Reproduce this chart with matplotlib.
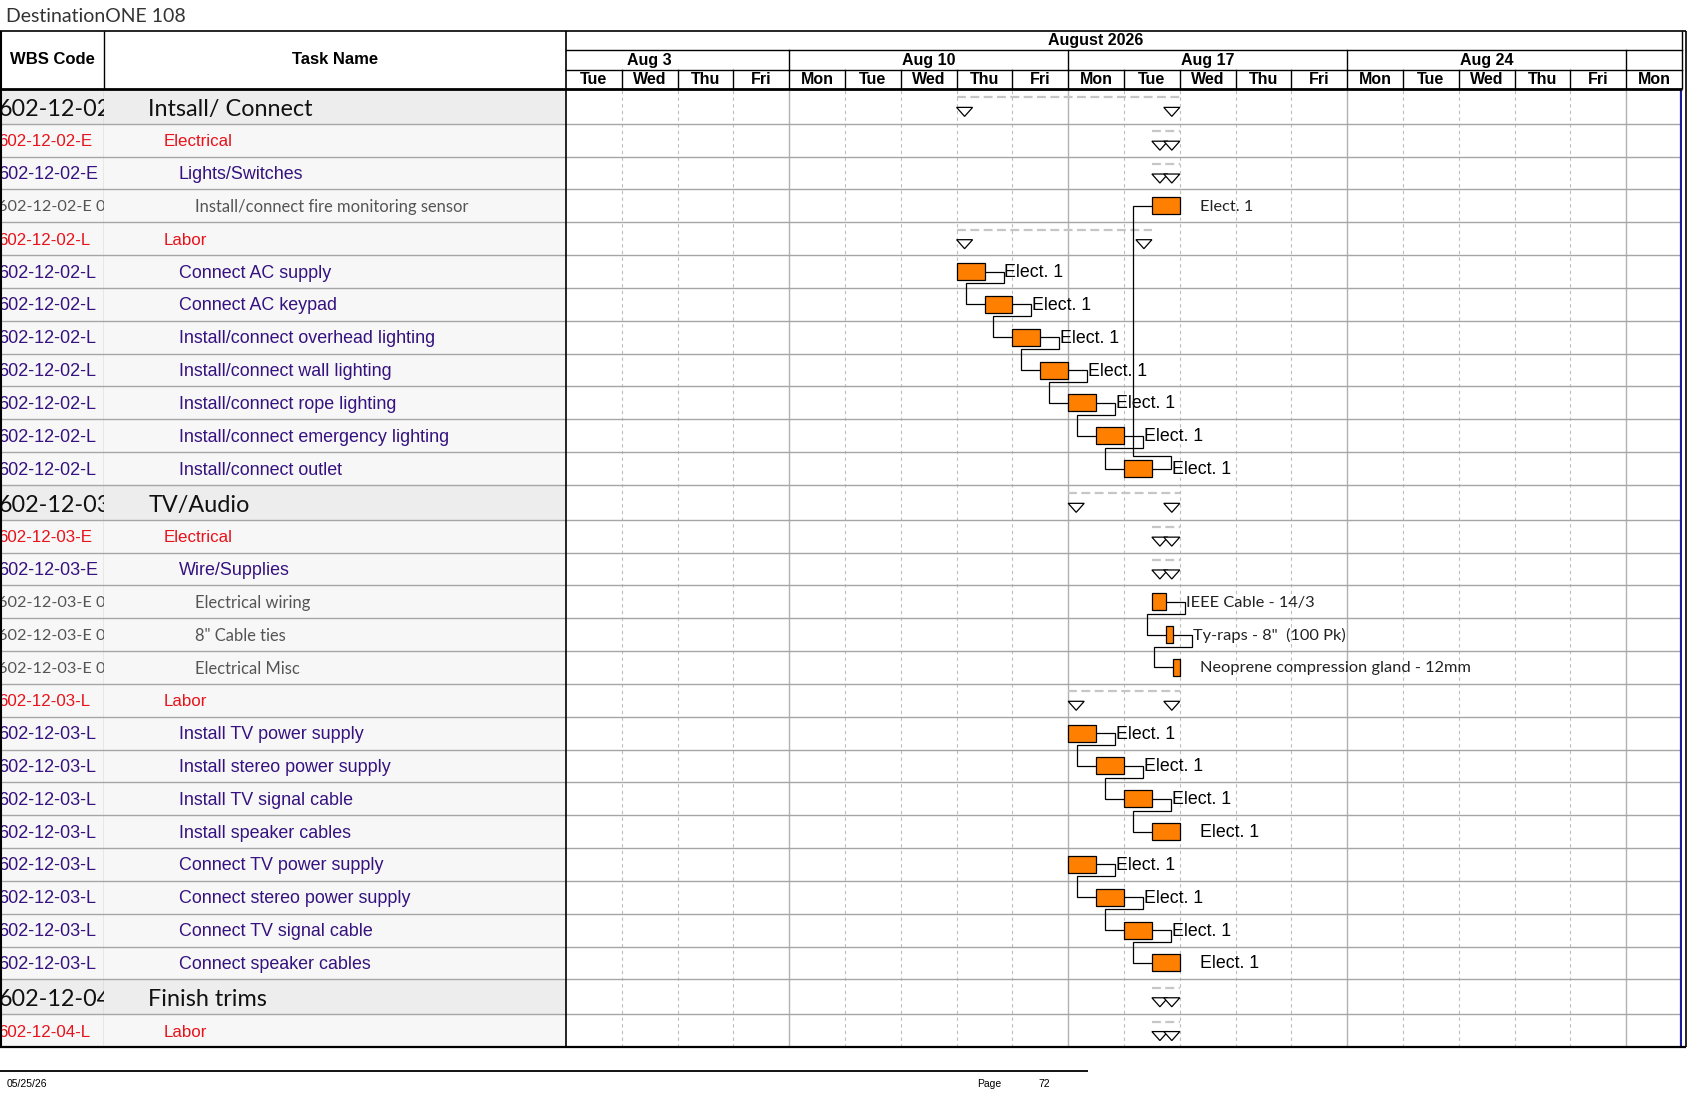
import numpy as np
import matplotlib
matplotlib.use("Agg")
import matplotlib.pyplot as plt
from matplotlib.patches import Polygon, Rectangle

# ---------------- data ----------------
title_text = "DestinationONE 108"
footer_date = "05/25/26"
footer_page = "72"
view_start = "2026-08-04"
month_label = "August 2026"
month_span = ("2026-08-01", "2026-09-01")
week_labels = ["Aug 3", "Aug 10", "Aug 17", "Aug 24"]
week_starts = ["2026-08-03", "2026-08-10", "2026-08-17", "2026-08-24", "2026-08-31"]
day_labels = ["Tue", "Wed", "Thu", "Fri", "Mon", "Tue", "Wed", "Thu", "Fri", "Mon",
              "Tue", "Wed", "Thu", "Fri", "Mon", "Tue", "Wed", "Thu", "Fri", "Mon"]

wbs_codes = ["602-12-02", "602-12-02-E", "602-12-02-E", "602-12-02-E 0", "602-12-02-L",
             "602-12-02-L", "602-12-02-L", "602-12-02-L", "602-12-02-L", "602-12-02-L",
             "602-12-02-L", "602-12-02-L",
             "602-12-03", "602-12-03-E", "602-12-03-E", "602-12-03-E 0", "602-12-03-E 0",
             "602-12-03-E 0", "602-12-03-L", "602-12-03-L", "602-12-03-L", "602-12-03-L",
             "602-12-03-L", "602-12-03-L", "602-12-03-L", "602-12-03-L", "602-12-03-L",
             "602-12-04", "602-12-04-L"]
task_names = ["Intsall/ Connect", "Electrical", "Lights/Switches",
              "Install/connect fire monitoring sensor", "Labor",
              "Connect AC supply", "Connect AC keypad", "Install/connect overhead lighting",
              "Install/connect wall lighting", "Install/connect rope lighting",
              "Install/connect emergency lighting", "Install/connect outlet",
              "TV/Audio", "Electrical", "Wire/Supplies", "Electrical wiring",
              "8\" Cable ties", "Electrical Misc", "Labor",
              "Install TV power supply", "Install stereo power supply",
              "Install TV signal cable", "Install speaker cables",
              "Connect TV power supply", "Connect stereo power supply",
              "Connect TV signal cable", "Connect speaker cables",
              "Finish trims", "Labor"]
outline_level = [0, 1, 2, 3, 1, 2, 2, 2, 2, 2, 2, 2,
                 0, 1, 2, 3, 3, 3, 1, 2, 2, 2, 2, 2, 2, 2, 2,
                 0, 1]
is_summary = [1, 1, 1, 0, 1, 0, 0, 0, 0, 0, 0, 0,
              1, 1, 1, 0, 0, 0, 1, 0, 0, 0, 0, 0, 0, 0, 0,
              1, 1]
start_time = ["2026-08-13 08:00", "2026-08-18 13:00", "2026-08-18 13:00", "2026-08-18 13:00",
              "2026-08-13 08:00", "2026-08-13 08:00", "2026-08-13 13:00", "2026-08-14 08:00",
              "2026-08-14 13:00", "2026-08-17 08:00", "2026-08-17 13:00", "2026-08-18 08:00",
              "2026-08-17 08:00", "2026-08-18 13:00", "2026-08-18 13:00", "2026-08-18 13:00",
              "2026-08-18 15:00", "2026-08-18 16:00", "2026-08-17 08:00",
              "2026-08-17 08:00", "2026-08-17 13:00", "2026-08-18 08:00", "2026-08-18 13:00",
              "2026-08-17 08:00", "2026-08-17 13:00", "2026-08-18 08:00", "2026-08-18 13:00",
              "2026-08-18 13:00", "2026-08-18 13:00"]
finish_time = ["2026-08-18 17:00", "2026-08-18 17:00", "2026-08-18 17:00", "2026-08-18 17:00",
               "2026-08-18 12:00", "2026-08-13 12:00", "2026-08-13 17:00", "2026-08-14 12:00",
               "2026-08-14 17:00", "2026-08-17 12:00", "2026-08-17 17:00", "2026-08-18 12:00",
               "2026-08-18 17:00", "2026-08-18 17:00", "2026-08-18 17:00", "2026-08-18 15:00",
               "2026-08-18 16:00", "2026-08-18 17:00", "2026-08-18 17:00",
               "2026-08-17 12:00", "2026-08-17 17:00", "2026-08-18 12:00", "2026-08-18 17:00",
               "2026-08-17 12:00", "2026-08-17 17:00", "2026-08-18 12:00", "2026-08-18 17:00",
               "2026-08-18 17:00", "2026-08-18 17:00"]
resource_labels = ["", "", "", "Elect. 1", "",
                   "Elect. 1", "Elect. 1", "Elect. 1", "Elect. 1", "Elect. 1", "Elect. 1", "Elect. 1",
                   "", "", "", "IEEE Cable - 14/3", "Ty-raps - 8\"  (100 Pk)",
                   "Neoprene compression gland - 12mm", "",
                   "Elect. 1", "Elect. 1", "Elect. 1", "Elect. 1",
                   "Elect. 1", "Elect. 1", "Elect. 1", "Elect. 1", "", ""]
links = [(5, 6), (6, 7), (7, 8), (8, 9), (9, 10), (10, 11), (11, 3),
         (15, 16), (16, 17),
         (19, 20), (20, 21), (21, 22),
         (23, 24), (24, 25), (25, 26)]

# ---------------- helpers ----------------
def dpos(d):
    d = np.busday_offset(d, 0, roll="forward")
    return float(np.busday_count(view_start, d))

def tpos(ts):
    d, hm = ts.split()
    h = int(hm[:2]) + int(hm[3:]) / 60.0
    frac = (h - 8) / 8.0 if h <= 12 else (h - 9) / 8.0
    return dpos(d) + frac

W, H = 1687, 1097
fig = plt.figure(figsize=(W / 100, H / 100), dpi=100)
fig.patch.set_facecolor("white")

def add_ax(x0, y0, x1, y1, z=1):
    ax = fig.add_axes([x0 / W, 1 - y1 / H, (x1 - x0) / W, (y1 - y0) / H], zorder=z)
    ax.set_axis_off()
    return ax

ARIAL = "Liberation Sans"
CALI = "Lato"

BODY_TOP, BODY_BOT = 89, 1047
X_WBS, X_TASK, X_G0, X_G1 = 0, 104, 566, 1682
n_days = len(day_labels)
px_per_day = (X_G1 - X_G0) / n_days

row_h = [34.8 if outline_level[i] == 0 else 32.85 for i in range(len(wbs_codes))]
bounds = np.concatenate([[0], np.cumsum(row_h)])
body_h = bounds[-1]
mids = (bounds[:-1] + bounds[1:]) / 2

ax_wbs = add_ax(X_WBS, BODY_TOP, X_TASK, BODY_BOT)
ax_task = add_ax(X_TASK, BODY_TOP, X_G0, BODY_BOT)
ax_g = add_ax(X_G0, BODY_TOP, X_G1, BODY_BOT)
ax_gh = add_ax(X_G0, 31, X_G1, BODY_TOP)
ax_all = add_ax(0, 0, W, H, z=5)

ax_wbs.set_xlim(X_WBS, X_TASK); ax_wbs.set_ylim(body_h, 0)
ax_task.set_xlim(X_TASK, X_G0); ax_task.set_ylim(body_h, 0)
ax_g.set_xlim(0, n_days); ax_g.set_ylim(body_h, 0)
ax_gh.set_xlim(0, n_days); ax_gh.set_ylim(BODY_TOP - 31, 0)
ax_all.set_xlim(0, W); ax_all.set_ylim(H, 0)

# ---------------- table ----------------
lvl_color = {0: "#111111", 1: "#e8121b", 2: "#35127f", 3: "#555555"}
lvl_font = {0: CALI, 1: ARIAL, 2: ARIAL, 3: CALI}
wbs_size = {0: 16.8, 1: 12.2, 2: 13.0, 3: 11.7}
name_size = {0: 16.8, 1: 12.2, 2: 12.9, 3: 11.9}
indent = {0: 148.5, 1: 163.5, 2: 178.6, 3: 194.7}
text_dy = {0: 3.0, 1: 1.5, 2: 1.5, 3: 1.5}

for i in range(len(wbs_codes)):
    lvl = outline_level[i]
    bg = "#ededed" if lvl == 0 else "#f7f7f7"
    for ax, (a, b) in ((ax_wbs, (X_WBS, X_TASK)), (ax_task, (X_TASK, X_G0))):
        ax.add_patch(Rectangle((a, bounds[i]), b - a, row_h[i], facecolor=bg,
                               edgecolor="none", zorder=0))
    ax_wbs.text(-1.5, mids[i] + text_dy[lvl], wbs_codes[i], fontsize=wbs_size[lvl],
                family=lvl_font[lvl], color=lvl_color[lvl], va="center", ha="left",
                clip_on=True)
    ax_task.text(indent[lvl], mids[i] + text_dy[lvl], task_names[i], fontsize=name_size[lvl],
                 family=lvl_font[lvl], color=lvl_color[lvl], va="center", ha="left",
                 clip_on=True)

for ax in (ax_wbs, ax_task):
    for yb in bounds[1:-1]:
        ax.axhline(yb, color="#a6a6a6", lw=1.0, zorder=1)
ax_wbs.axvline(X_TASK - 0.5, color="#a6a6a6", lw=1.0, zorder=1)

# ---------------- gantt body ----------------
week_idx = [dpos(d) for d in week_starts]
for k in range(1, n_days):
    if k in week_idx:
        ax_g.axvline(k, color="#b2b2b2", lw=1.0, zorder=0)
    else:
        ax_g.axvline(k, color="#bdbdbd", lw=0.8, ls=(0, (3, 3)), zorder=0)
for yb in bounds[1:-1]:
    ax_g.axhline(yb, color="#a6a6a6", lw=1.0, zorder=0)

starts = [tpos(s) for s in start_time]
ends = [tpos(s) for s in finish_time]

dx = 19.0 / px_per_day
tri_w = 16.0 / px_per_day
tri_h = 9.0

for i in range(len(wbs_codes)):
    if is_summary[i]:
        y_dash = mids[i] - 9.0
        ax_g.plot([starts[i], ends[i]], [y_dash, y_dash], color="#c6c6c6", lw=1.6,
                  ls=(0, (4, 2)), zorder=2, solid_capstyle="butt")
        yt = mids[i] + 1.0
        for x0 in (starts[i], ends[i] - tri_w):
            ax_g.add_patch(Polygon([(x0, yt), (x0 + tri_w, yt),
                                    (x0 + tri_w / 2, yt + tri_h)], closed=True,
                                   facecolor="white", edgecolor="black", lw=0.9, zorder=4))
    else:
        ax_g.barh(mids[i], ends[i] - starts[i], left=starts[i], height=17,
                  color="#ff8000", edgecolor="black", lw=0.9, zorder=4)
        if resource_labels[i]:
            lvl = outline_level[i]
            fam = ARIAL if lvl == 2 else CALI
            fs = 12.8 if lvl == 2 else 11.8
            col = "black" if lvl == 2 else "#222222"
            ax_g.text(ends[i] + dx + 1.0 / px_per_day, mids[i] + 1.0, resource_labels[i],
                      fontsize=fs, family=fam, color=col, va="center", ha="left", zorder=5)

for p, s in links:
    xe, xs = ends[p], starts[s]
    if s > p:
        yc = bounds[p + 1] - 4.5
    else:
        yc = bounds[p] + 4.0
    xs_ = [xe, xe + dx, xe + dx, xs - dx, xs - dx, xs]
    ys_ = [mids[p], mids[p], yc, yc, mids[s], mids[s]]
    ax_g.plot(xs_, ys_, color="black", lw=0.9, zorder=3, solid_joinstyle="miter")

ax_g.axvline(n_days - 0.02, color="#1c1c9a", lw=1.6, zorder=6)

# ---------------- gantt header ----------------
hh = BODY_TOP - 31
y_m, y_w = 19.0, 38.5
ax_gh.plot([0, n_days], [y_m, y_m], color="black", lw=1.0, clip_on=False)
ax_gh.plot([0, n_days], [y_w, y_w], color="black", lw=1.0, clip_on=False)
ms, me = dpos(month_span[0]), dpos(month_span[1])
ax_gh.text((ms + me) / 2, y_m / 2 + 0.5, month_label, ha="center", va="center",
           fontsize=11.5, family=ARIAL, weight="bold")
for k, lab in enumerate(week_labels):
    a, b = dpos(week_starts[k]), dpos(week_starts[k + 1])
    ax_gh.text((a + b) / 2, (y_m + y_w) / 2 + 0.5, lab, ha="center", va="center",
               fontsize=11.5, family=ARIAL, weight="bold")
for wk in week_idx:
    if 0 < wk < n_days:
        ax_gh.plot([wk, wk], [y_m, y_w], color="black", lw=1.0)
for k, lab in enumerate(day_labels):
    ax_gh.text(k + 0.5, (y_w + hh) / 2 + 0.5, lab, ha="center", va="center",
               fontsize=11.5, family=ARIAL, weight="bold")
    if k > 0:
        ax_gh.plot([k, k], [y_w, hh], color="black", lw=1.0)

# ---------------- frame, title, footer ----------------
L = dict(color="black", solid_capstyle="butt")
ax_all.plot([0, 1686], [31, 31], lw=1.2, **L)
ax_all.plot([0, X_G1], [BODY_TOP, BODY_TOP], lw=2.0, **L)
ax_all.plot([0.8, 0.8], [31, BODY_BOT], lw=1.5, **L)
ax_all.plot([X_TASK, X_TASK], [31, BODY_TOP], lw=1.0, **L)
ax_all.plot([X_G0, X_G0], [31, BODY_BOT], lw=1.2, **L)
ax_all.plot([0, 1686], [BODY_BOT, BODY_BOT], lw=1.6, **L)
ax_all.plot([1686, 1686], [31, BODY_BOT], lw=1.2, **L)
ax_all.plot([X_G1, X_G1], [31, BODY_TOP], lw=1.0, **L)

ax_all.text(52, 60, "WBS Code", ha="center", va="center", fontsize=12, family=ARIAL,
            weight="bold")
ax_all.text(335, 60, "Task Name", ha="center", va="center", fontsize=12, family=ARIAL,
            weight="bold")
ax_all.text(6, 16.5, title_text, ha="left", va="center", fontsize=14, family=CALI,
            color="#333333")

ax_all.plot([0, 1088], [1071, 1071], lw=1.3, **L)
ax_all.text(7, 1084, footer_date, ha="left", va="center", fontsize=7.5, family=ARIAL)
ax_all.text(977, 1084, "Page", ha="left", va="center", fontsize=7.5, family=ARIAL)
ax_all.text(1038, 1084, footer_page, ha="left", va="center", fontsize=7.5, family=ARIAL)

fig.savefig("out.png", dpi=100, facecolor="white")
